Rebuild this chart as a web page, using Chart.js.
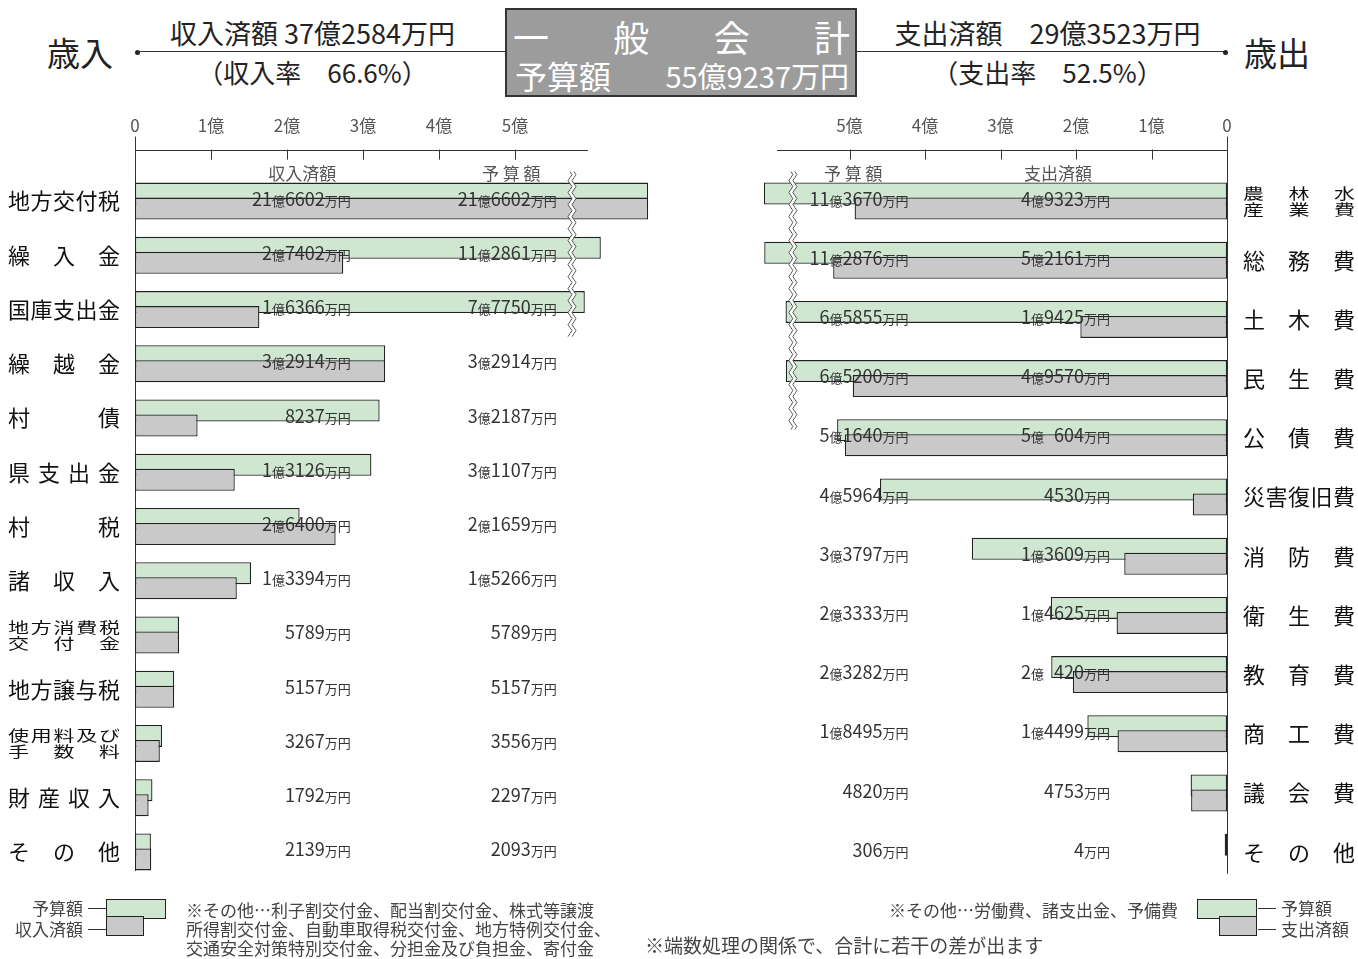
<!DOCTYPE html>
<html lang="ja">
<head>
<meta charset="utf-8">
<title>一般会計 歳入・歳出</title>
<script src="https://cdn.jsdelivr.net/npm/chart.js@4.4.1/dist/chart.umd.min.js"></script>
<style>
  body { margin: 0; background: #fff; font-family: "Noto Sans CJK JP", "Noto Sans", sans-serif; color: #222; }
  #page { position: relative; width: 1358px; height: 959px; overflow: hidden; }
  #page canvas { position: absolute; top: 0; }
  #chartLeft { left: 0; }
  #chartRight { left: 680px; }
  .t { position: absolute; white-space: nowrap; }
  .c { text-align: center; }
  .rule { position: absolute; height: 0; border-top: 1.5px solid #333; }
  .dot { position: absolute; width: 5px; height: 5px; border-radius: 50%; background: #222; }
  .box { position: absolute; left: 505px; top: 8px; width: 348px; height: 85px; background: #9c9c9c; border: 2px solid #333; color: #fff; }
  .spread { position: absolute; display: flex; justify-content: space-between; }
  .key { position: absolute; border: 1.5px solid #222; }
  .key.g { background: #cfe6d0; }
  .key.s { background: #c9c9c9; }
  .note { font-size: 17px; color: #444; line-height: 19px; }
</style>
</head>
<body>
<div id="page">
  <!-- 見出し -->
  <div class="t" style="left:47px;top:32px;font-size:33px;line-height:40px;">歳入</div>
  <div class="dot" style="left:135px;top:50px;"></div>
  <div class="rule" style="left:137px;top:51px;width:368px;"></div>
  <div class="t c" style="left:140px;top:16px;width:345px;font-size:27px;line-height:34px;">収入済額 37億2584万円</div>
  <div class="t c" style="left:140px;top:55px;width:345px;font-size:26px;line-height:34px;">（収入率　66.6%）</div>

  <div class="box">
    <div class="spread" style="left:6px;right:5px;top:4px;font-size:36px;line-height:44px;">
      <span>一</span><span>般</span><span>会</span><span>計</span>
    </div>
    <div class="t" style="left:8px;top:45px;font-size:32px;line-height:40px;">予算額</div>
    <div class="t" style="right:6px;top:45px;font-size:29px;line-height:40px;">55億9237万円</div>
  </div>

  <div class="rule" style="left:857px;top:51px;width:368px;"></div>
  <div class="dot" style="left:1223px;top:50px;"></div>
  <div class="t c" style="left:875px;top:16px;width:345px;font-size:27px;line-height:34px;">支出済額　29億3523万円</div>
  <div class="t c" style="left:875px;top:55px;width:345px;font-size:26px;line-height:34px;">（支出率　52.5%）</div>
  <div class="t" style="left:1244px;top:32px;font-size:33px;line-height:40px;">歳出</div>

  <canvas id="chartLeft" width="680" height="959"></canvas>
  <canvas id="chartRight" width="678" height="959"></canvas>

  <!-- 凡例・注記 -->
  <div class="t note" style="right:1275px;top:898px;">予算額</div>
  <div class="t note" style="right:1275px;top:919px;">収入済額</div>
  <div class="rule" style="left:88px;top:908px;width:18px;border-top-width:1px;"></div>
  <div class="rule" style="left:88px;top:929px;width:18px;border-top-width:1px;"></div>
  <div class="key g" style="left:106px;top:899px;width:58px;height:18px;"></div>
  <div class="key s" style="left:106px;top:916px;width:36px;height:18px;"></div>
  <div class="t note" style="left:186px;top:900px;">※その他…利子割交付金、配当割交付金、株式等譲渡<br>所得割交付金、自動車取得税交付金、地方特例交付金、<br>交通安全対策特別交付金、分担金及び負担金、寄付金</div>

  <div class="t note" style="right:180px;top:900px;">※その他…労働費、諸支出金、予備費</div>
  <div class="key g" style="left:1197px;top:899px;width:58px;height:18px;"></div>
  <div class="key s" style="left:1219px;top:916px;width:36px;height:18px;"></div>
  <div class="rule" style="left:1258px;top:908px;width:18px;border-top-width:1px;"></div>
  <div class="rule" style="left:1258px;top:929px;width:18px;border-top-width:1px;"></div>
  <div class="t note" style="left:1281px;top:898px;">予算額</div>
  <div class="t note" style="left:1281px;top:919px;">支出済額</div>

  <div class="t" style="left:645px;top:933px;font-size:19px;color:#444;line-height:24px;">※端数処理の関係で、合計に若干の差が出ます</div>
</div>

<script>
// ===============================
// データ（単位：万円）
// ===============================
const revenueCategories = ["地方交付税", "繰入金", "国庫支出金", "繰越金", "村債", "県支出金", "村税",
  "諸収入", "地方消費税\n交付金", "地方譲与税", "使用料及び\n手数料", "財産収入", "その他"];
const revenueBudget = [216602, 112861, 77750, 32914, 32187, 31107, 21659, 15266, 5789, 5157, 3556, 2297, 2093];
const revenueActual = [216602, 27402, 16366, 32914, 8237, 13126, 26400, 13394, 5789, 5157, 3267, 1792, 2139];

const expenseCategories = ["農林水\n産業費", "総務費", "土木費", "民生費", "公債費", "災害復旧費",
  "消防費", "衛生費", "教育費", "商工費", "議会費", "その他"];
const expenseBudget = [113670, 112876, 65855, 65200, 51640, 45964, 33797, 23333, 23282, 18495, 4820, 306];
const expenseActual = [49323, 52161, 19425, 49570, 50604, 4530, 13609, 14625, 20420, 14499, 4753, 4];

// 目盛（億円）
const axisTicks = [0, 1, 2, 3, 4, 5];
const tickLabels = ["0", "1億", "2億", "3億", "4億", "5億"];

// ===============================
// 見た目の設定
// ===============================
const GREEN = "#cfe6d0";
const GRAY = "#c9c9c9";
const EDGE = "#222";
const FONT = '"Noto Sans CJK JP", "Noto Sans", sans-serif';
const BAR_PX = 22;      // 棒の太さ
const SHIFT_PX = 7.5;   // 予算額と済額の棒のずれ（半分）
const AXIS_END = 5.96;  // 横軸の線の長さ（億）
const BREAK_AT = 5.8;   // ここから先は省略して描く（億）
const BREAK_RATE = 0.06;
const WAVE_AT = 5.75;

// 省略線つきの軸へ変換
function toAxis(man) {
  const oku = man / 10000;
  return oku <= BREAK_AT ? oku : BREAK_AT + (oku - BREAK_AT) * BREAK_RATE;
}

function amountParts(man) {
  const oku = Math.floor(man / 10000);
  const rest = man % 10000;
  const parts = [];
  if (oku > 0) {
    parts.push({ t: String(oku), big: true });
    parts.push({ t: "億", big: false });
    const s = String(rest);
    if (s.length < 4) parts.push({ pad: 4 - s.length });
    parts.push({ t: s, big: true });
  } else {
    parts.push({ t: String(rest), big: true });
  }
  parts.push({ t: "万円", big: false });
  return parts;
}

// 金額を右寄せで描く
function drawAmount(ctx, man, xRight, y) {
  const big = "18px " + FONT, small = "13px " + FONT;
  const parts = amountParts(man);
  ctx.font = big;
  const digit = ctx.measureText("0").width;
  let total = 0;
  parts.forEach(p => {
    if (p.pad) { p.w = p.pad * digit; }
    else { ctx.font = p.big ? big : small; p.w = ctx.measureText(p.t).width; }
    total += p.w;
  });
  let x = xRight - total;
  ctx.textAlign = "left";
  ctx.textBaseline = "alphabetic";
  parts.forEach(p => {
    if (!p.pad) {
      ctx.font = p.big ? big : small;
      ctx.fillText(p.t, x, y + 6.5);
    }
    x += p.w;
  });
}

// 文字を幅いっぱいに均等割り
function drawSpread(ctx, text, x0, x1, y, squash) {
  const chars = [...text];
  const widths = chars.map(c => ctx.measureText(c).width);
  const total = widths.reduce((s, w) => s + w, 0);
  const gap = chars.length > 1 ? (x1 - x0 - total) / (chars.length - 1) : 0;
  let x = x0;
  ctx.save();
  ctx.translate(0, y);
  ctx.scale(1, squash || 1);
  ctx.textAlign = "left";
  chars.forEach((c, i) => {
    ctx.fillText(c, x, 0);
    x += widths[i] + gap;
  });
  ctx.restore();
}

function rowCenter(chart, i) {
  return (chart.scales.yBudget.getPixelForValue(i) + chart.scales.yActual.getPixelForValue(i)) / 2;
}

function hline(ctx, x0, x1, y) {
  ctx.beginPath();
  ctx.moveTo(x0, Math.round(y) + 0.5);
  ctx.lineTo(x1, Math.round(y) + 0.5);
  ctx.stroke();
}
function vline(ctx, x, y0, y1) {
  ctx.beginPath();
  ctx.moveTo(Math.round(x) + 0.5, y0);
  ctx.lineTo(Math.round(x) + 0.5, y1);
  ctx.stroke();
}

// 省略の波線
function drawWave(ctx, x, y0, y1) {
  const amp = 2, step = 3;
  const pts = [];
  for (let y = y0, k = 0; y <= y1; y += step, k++) {
    pts.push([x + (k % 4 === 1 ? amp : k % 4 === 3 ? -amp : 0), y]);
  }
  ctx.save();
  ctx.fillStyle = "#fff";
  ctx.beginPath();
  pts.forEach(([px, py], i) => (i ? ctx.lineTo(px - 2, py) : ctx.moveTo(px - 2, py)));
  for (let i = pts.length - 1; i >= 0; i--) ctx.lineTo(pts[i][0] + 2, pts[i][1]);
  ctx.closePath();
  ctx.fill();
  ctx.strokeStyle = "#555";
  ctx.lineWidth = 1;
  [-2, 2].forEach(d => {
    ctx.beginPath();
    pts.forEach(([px, py], i) => (i ? ctx.lineTo(px + d, py) : ctx.moveTo(px + d, py)));
    ctx.stroke();
  });
  ctx.restore();
}

// ===============================
// 軸・金額・項目名のプラグイン
// ===============================
const decorPlugin = {
  id: "decor",
  beforeDatasetsDraw(chart, args, o) {
    const ctx = chart.ctx;
    const x = chart.scales.x;
    const barTop = rowCenter(chart, 0) - SHIFT_PX - BAR_PX / 2;
    const axisY = barTop - 33;
    const x0 = x.getPixelForValue(0);
    ctx.save();
    ctx.strokeStyle = "#333";
    ctx.lineWidth = 1;
    hline(ctx, x0, x.getPixelForValue(AXIS_END), axisY);
    ctx.fillStyle = "#555";
    ctx.font = "17px " + FONT;
    ctx.textAlign = "center";
    ctx.textBaseline = "middle";
    axisTicks.forEach((t, i) => {
      const px = x.getPixelForValue(t);
      if (t > 0) vline(ctx, px, axisY, axisY + 10);
      ctx.fillText(tickLabels[i], px, axisY - 24);
    });
    vline(ctx, x0, axisY - 13, chart.chartArea.bottom - 8);

    // 列見出し
    ctx.font = "17px " + FONT;
    o.headers.forEach(h => {
      ctx.fillText(h.text, x.getPixelForValue(h.at), barTop - 9);
    });
    ctx.restore();
  },
  afterDatasetsDraw(chart, args, o) {
    const ctx = chart.ctx;
    const x = chart.scales.x;
    const x0 = x.getPixelForValue(0);
    ctx.save();

    // 省略の波線
    let lastBroken = -1;
    o.budget.forEach((v, i) => {
      if (Math.max(v, o.actual[i]) / 10000 > BREAK_AT) lastBroken = i;
    });
    if (lastBroken >= 0) {
      const top = rowCenter(chart, 0) - SHIFT_PX - BAR_PX / 2 - 11;
      drawWave(ctx, x.getPixelForValue(WAVE_AT), top, rowCenter(chart, lastBroken) + o.waveTail);
    }

    // 金額
    ctx.fillStyle = "#333";
    o.budget.forEach((v, i) => {
      const y = rowCenter(chart, i) - 2;
      drawAmount(ctx, v, x.getPixelForValue(o.budgetCol), y);
      drawAmount(ctx, o.actual[i], x.getPixelForValue(o.actualCol), y);
    });

    // 項目名
    ctx.fillStyle = "#111";
    ctx.textBaseline = "middle";
    const lx0 = o.side === "left" ? x0 - 127 : x0 + 16;
    const lx1 = lx0 + 112;
    o.labels.forEach((lab, i) => {
      const y = rowCenter(chart, i);
      const lines = lab.split("\n");
      if (lines.length === 1) {
        ctx.font = "22px " + FONT;
        drawSpread(ctx, lines[0], lx0, lx1, y);
      } else {
        ctx.font = "21px " + FONT;
        drawSpread(ctx, lines[0], lx0, lx1, y - 8, 0.72);
        drawSpread(ctx, lines[1], lx0, lx1, y + 8, 0.72);
      }
    });
    ctx.restore();
  }
};

function makeChart(id, labels, budget, actual, cfg) {
  const canvas = document.getElementById(id);
  const rows = labels.length;
  const pad = cfg.padding;
  const pitch = (canvas.height - pad.top - pad.bottom) / rows;
  const shift = SHIFT_PX / pitch;
  const rowAxis = (min) => ({
    type: "linear", display: false, reverse: true,
    min: min, max: min + rows,
    ticks: { stepSize: 1 },
    afterBuildTicks: axis => { axis.ticks = axis.ticks.filter(t => Number.isInteger(t.value)); }
  });
  const barStyle = {
    borderColor: EDGE, borderWidth: 1.3, borderSkipped: false,
    grouped: false, categoryPercentage: 1, barPercentage: BAR_PX / pitch
  };
  return new Chart(canvas, {
    type: "bar",
    data: {
      datasets: [
        {
          label: cfg.actualName, yAxisID: "yActual", backgroundColor: GRAY, ...barStyle,
          data: actual.map((v, i) => ({ x: toAxis(v), y: i }))
        },
        {
          label: "予算額", yAxisID: "yBudget", backgroundColor: GREEN, ...barStyle,
          data: budget.map((v, i) => ({ x: toAxis(v), y: i }))
        }
      ]
    },
    options: {
      indexAxis: "y",
      responsive: false,
      animation: false,
      events: [],
      layout: { padding: pad },
      plugins: {
        legend: { display: false },
        tooltip: { enabled: false },
        decor: {
          side: cfg.side, labels: labels, budget: budget, actual: actual,
          budgetCol: cfg.budgetCol, actualCol: cfg.actualCol,
          headers: cfg.headers, waveTail: cfg.waveTail
        }
      },
      scales: {
        x: { type: "linear", display: false, min: 0, max: 7, reverse: cfg.side === "right" },
        yBudget: rowAxis(-0.5 + shift),
        yActual: rowAxis(-0.5 - shift)
      }
    },
    plugins: [decorPlugin]
  });
}

// ===============================
// 描画
// ===============================
document.addEventListener("DOMContentLoaded", () => {
  makeChart("chartLeft", revenueCategories, revenueBudget, revenueActual, {
    side: "left",
    actualName: "収入済額",
    padding: { left: 135, right: 13, top: 174, bottom: 80 },
    actualCol: 2.84, budgetCol: 5.55,
    headers: [{ text: "収入済額", at: 2.2 }, { text: "予 算 額", at: 4.95 }],
    waveTail: 28
  });
  makeChart("chartRight", expenseCategories, expenseBudget, expenseActual, {
    side: "right",
    actualName: "支出済額",
    padding: { left: 18.5, right: 131, top: 171.4, bottom: 77.2 },
    actualCol: 1.55, budgetCol: 4.22,
    headers: [{ text: "予 算 額", at: 4.95 }, { text: "支出済額", at: 2.24 }],
    waveTail: 51
  });
});
</script>
</body>
</html>
